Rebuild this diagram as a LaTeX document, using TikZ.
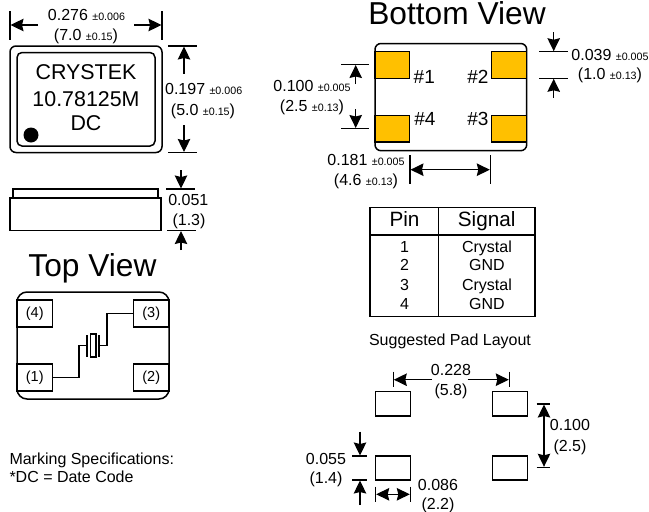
\documentclass[tikz,border=0pt]{standalone}
\usepackage{fontspec}
\setmainfont{Liberation Sans}
\usepackage{xcolor}
\usetikzlibrary{arrows.meta}
\definecolor{padgold}{HTML}{FFC000}
\newcommand{\tol}[1]{{\fontsize{10.7}{12}\selectfont ±#1}}

\begin{document}
\begin{tikzpicture}[x=1pt,y=-1pt,
  outline/.style={line width=1.5pt},
  dimtick/.style={line width=1.25pt},
  dimarrow/.style={line width=1.15pt,-{Stealth[length=13pt,width=12.5pt,inset=1.5pt]}},
  dimboth/.style={line width=1.15pt,{Stealth[length=13pt,width=12.5pt,inset=1.5pt]}-{Stealth[length=13pt,width=12.5pt,inset=1.5pt]}},
  label/.style={inner sep=0pt,anchor=base,font=\fontsize{16}{18}\selectfont},
  marking/.style={inner sep=0pt,anchor=base,font=\fontsize{21.4}{24}\selectfont},
  viewtitle/.style={inner sep=0pt,anchor=base,font=\fontsize{31.7}{36}\selectfont},
  pinmark/.style={inner sep=0pt,anchor=base,font=\fontsize{19}{22}\selectfont},
  headcell/.style={inner sep=0pt,anchor=base,font=\fontsize{20.7}{24}\selectfont},
  padbox/.style={draw,outline,inner sep=0pt,minimum width=35.5pt,minimum height=27pt,font=\fontsize{14.5}{17}\selectfont},
  goldpad/.style={outline,fill=padgold},
  landpad/.style={outline}]
\useasboundingbox (0,0) rectangle (649,512);

\draw[outline,rounded corners=6pt] (10,46) rectangle (162,152.5);
\draw[outline,rounded corners=5pt] (17,52.5) rectangle (155,146);
\fill (31,135) circle (7.5);
\node[marking] (brand) at (86,79.3) {CRYSTEK};
\node[marking] (freq) at (86,106.7) {10.78125M};
\node[marking] (datecode) at (86,130.7) {DC};

\coordinate (wa1) at (10,11);
\coordinate (wa2) at (10,39.5);
\coordinate (wb1) at (162,11);
\coordinate (wb2) at (162,39.5);
\coordinate (wc1) at (38,25);
\coordinate (wc2) at (10.5,25);
\coordinate (wd1) at (134,25);
\coordinate (wd2) at (161.5,25);
\draw[dimtick] (wa1) -- (wa2);
\draw[dimtick] (wb1) -- (wb2);
\draw[dimarrow] (wc1) -- (wc2);
\draw[dimarrow] (wd1) -- (wd2);
\node[label] (wtext) at (86.5,20.7) {0.276 \tol{0.006}};
\node[label] (wmm) at (86,40) {(7.0 \tol{0.15})};

\coordinate (ha1) at (168,46);
\coordinate (ha2) at (197,46);
\coordinate (hb1) at (168,152.5);
\coordinate (hb2) at (197,152.5);
\coordinate (hc1) at (184,73.5);
\coordinate (hc2) at (184,46.5);
\coordinate (hd1) at (184,125);
\coordinate (hd2) at (184,152);
\draw[dimtick] (ha1) -- (ha2);
\draw[dimtick] (hb1) -- (hb2);
\draw[dimarrow] (hc1) -- (hc2);
\draw[dimarrow] (hd1) -- (hd2);
\node[label] (htext) at (203.7,94) {0.197 \tol{0.006}};
\node[label] (hmm) at (203,115) {(5.0 \tol{0.15})};

\draw[outline] (13,198) rectangle (158,189);
\draw[outline] (10,198) rectangle (161,230.5);
\coordinate (ta1) at (166,189);
\coordinate (ta2) at (195,189);
\coordinate (tb1) at (167,230.5);
\coordinate (tb2) at (196,230.5);
\coordinate (tc1) at (181,170);
\coordinate (tc2) at (181,188.5);
\coordinate (td1) at (181,250);
\coordinate (td2) at (181,231);
\draw[dimtick] (ta1) -- (ta2);
\draw[dimtick] (tb1) -- (tb2);
\draw[dimarrow] (tc1) -- (tc2);
\draw[dimarrow] (td1) -- (td2);
\node[label] (ttext) at (188.3,205) {0.051};
\node[label] (tmm) at (189,225.3) {(1.3)};

\node[viewtitle] (topview) at (92.5,276) {Top View};
\draw[outline,rounded corners=10pt] (17,292) rectangle (169,399);
\node[padbox] (p4) at (34.75,313.5) {(4)};
\node[padbox] (p3) at (151.25,313.5) {(3)};
\node[padbox] (p1) at (34.75,377.5) {(1)};
\node[padbox] (p2) at (151.25,377.5) {(2)};
\coordinate (xa) at (87,345.5);
\coordinate (xb) at (99,345.5);
\coordinate (xa1) at (87,335);
\coordinate (xa2) at (87,357);
\coordinate (xb1) at (99,335);
\coordinate (xb2) at (99,357);
\draw[outline] (p1) -- (79,377.5) -- (79,345.5) -- (xa);
\draw[outline] (xb) -- (107,345.5) -- (107,313.5) -- (p3);
\draw[outline] (xa1) -- (xa2);
\draw[outline] (xb1) -- (xb2);
\draw[line width=1.1pt] (90.7,334) rectangle (96,357);

\node[label,anchor=base west] (mark1) at (9.3,464) {Marking Specifications:};
\node[label,anchor=base west] (mark2) at (9.3,482.7) {*DC = Date Code};

\node[viewtitle] (bottomview) at (457,24.5) {Bottom View};
\draw[outline,rounded corners=6pt] (375,43.5) rectangle (526.7,150.7);
\draw[goldpad] (375,51.7) rectangle (409.5,78.3);
\draw[goldpad] (491.3,51.7) rectangle (526.7,78.3);
\draw[goldpad] (375,115.7) rectangle (409.5,142);
\draw[goldpad] (491.3,115.7) rectangle (526.7,142);
\node[pinmark] (n1) at (424.3,83.3) {\#1};
\node[pinmark] (n2) at (478,83.3) {\#2};
\node[pinmark] (n4) at (425,125.7) {\#4};
\node[pinmark] (n3) at (478,125.7) {\#3};

\coordinate (pa1) at (341,64.5);
\coordinate (pa2) at (369,64.5);
\coordinate (pb1) at (341,128.5);
\coordinate (pb2) at (369,128.5);
\coordinate (pc1) at (355.7,84);
\coordinate (pc2) at (355.7,65);
\coordinate (pd1) at (355.7,109);
\coordinate (pd2) at (355.7,128);
\draw[dimtick] (pa1) -- (pa2);
\draw[dimtick] (pb1) -- (pb2);
\draw[dimarrow] (pc1) -- (pc2);
\draw[dimarrow] (pd1) -- (pd2);
\node[label] (ptext) at (312,91.3) {0.100 \tol{0.005}};
\node[label] (pmm) at (312,111.7) {(2.5 \tol{0.13})};

\coordinate (la1) at (539,51.7);
\coordinate (la2) at (568,51.7);
\coordinate (lb1) at (539,78.3);
\coordinate (lb2) at (568,78.3);
\coordinate (lc1) at (553.7,32);
\coordinate (lc2) at (553.7,51.2);
\coordinate (ld1) at (553.7,97.5);
\coordinate (ld2) at (553.7,78.8);
\draw[dimtick] (la1) -- (la2);
\draw[dimtick] (lb1) -- (lb2);
\draw[dimarrow] (lc1) -- (lc2);
\draw[dimarrow] (ld1) -- (ld2);
\node[label] (ltext) at (610,60) {0.039 \tol{0.005}};
\node[label] (lmm) at (610,79.3) {(1.0 \tol{0.13})};

\coordinate (sa1) at (410,155);
\coordinate (sa2) at (410,183.5);
\coordinate (sb1) at (490.3,155);
\coordinate (sb2) at (490.3,183.5);
\coordinate (sc1) at (410.5,169.7);
\coordinate (sc2) at (489.8,169.7);
\draw[dimtick] (sa1) -- (sa2);
\draw[dimtick] (sb1) -- (sb2);
\draw[dimboth] (sc1) -- (sc2);
\node[label] (stext) at (366,165.7) {0.181 \tol{0.005}};
\node[label] (smm) at (366,185) {(4.6 \tol{0.13})};

\draw[outline] (370,207.3) rectangle (535,316.7);
\coordinate (ra) at (370,235);
\coordinate (rb) at (535,235);
\coordinate (rc) at (438.7,207.3);
\coordinate (rd) at (438.7,316.7);
\draw[outline] (ra) -- (rb);
\draw[outline] (rc) -- (rd);
\node[headcell] (pinhead) at (404.5,226) {Pin};
\node[headcell] (signalhead) at (486.7,226) {Signal};
\node[label] (r1a) at (404.5,252.3) {1};
\node[label] (r2a) at (404.5,270.7) {2};
\node[label] (r3a) at (404.5,290) {3};
\node[label] (r4a) at (404.5,309.3) {4};
\node[label] (r1b) at (487,252.3) {Crystal};
\node[label] (r2b) at (487,270.7) {GND};
\node[label] (r3b) at (487,290) {Crystal};
\node[label] (r4b) at (487,309.3) {GND};

\node[label] (padtitle) at (450,345.7) {Suggested Pad Layout};
\draw[landpad] (375.7,391.7) rectangle (410.3,416);
\draw[landpad] (492.3,391.7) rectangle (527.3,416);
\draw[landpad] (375.7,456) rectangle (410.3,480);
\draw[landpad] (492.3,456) rectangle (527.3,480);

\coordinate (ga1) at (393.3,371.7);
\coordinate (ga2) at (393.3,387);
\coordinate (gb1) at (509.3,371.7);
\coordinate (gb2) at (509.3,387);
\coordinate (gc1) at (431.7,379.7);
\coordinate (gc2) at (393.8,379.7);
\coordinate (gd1) at (467.7,379.7);
\coordinate (gd2) at (508.8,379.7);
\draw[dimtick] (ga1) -- (ga2);
\draw[dimtick] (gb1) -- (gb2);
\draw[dimarrow] (gc1) -- (gc2);
\draw[dimarrow] (gd1) -- (gd2);
\node[label] (gtext) at (451,375) {0.228};
\node[label] (gmm) at (451,395) {(5.8)};

\coordinate (va1) at (536.7,404);
\coordinate (va2) at (550,404);
\coordinate (vb1) at (536.7,467.3);
\coordinate (vb2) at (550,467.3);
\coordinate (vc1) at (544,404.5);
\coordinate (vc2) at (544,466.8);
\draw[dimtick] (va1) -- (va2);
\draw[dimtick] (vb1) -- (vb2);
\draw[dimboth] (vc1) -- (vc2);
\node[label] (vtext) at (570,430.7) {0.100};
\node[label] (vmm) at (570,451.7) {(2.5)};

\coordinate (ka1) at (352.3,456);
\coordinate (ka2) at (367.3,456);
\coordinate (kb1) at (352.3,480);
\coordinate (kb2) at (367.3,480);
\coordinate (kc1) at (360,431.7);
\coordinate (kc2) at (360,455.5);
\coordinate (kd1) at (360,505);
\coordinate (kd2) at (360,480.5);
\draw[dimtick] (ka1) -- (ka2);
\draw[dimtick] (kb1) -- (kb2);
\draw[dimarrow] (kc1) -- (kc2);
\draw[dimarrow] (kd1) -- (kd2);
\node[label] (ktext) at (326,464) {0.055};
\node[label] (kmm) at (326,483.3) {(1.4)};

\coordinate (ja1) at (375.7,486.7);
\coordinate (ja2) at (375.7,502.3);
\coordinate (jb1) at (410.3,486.7);
\coordinate (jb2) at (410.3,502.3);
\coordinate (jc1) at (376.2,494.3);
\coordinate (jc2) at (409.8,494.3);
\draw[dimtick] (ja1) -- (ja2);
\draw[dimtick] (jb1) -- (jb2);
\draw[dimboth] (jc1) -- (jc2);
\node[label] (jtext) at (438,490.7) {0.086};
\node[label] (jmm) at (438,509.3) {(2.2)};
\end{tikzpicture}
\end{document}
